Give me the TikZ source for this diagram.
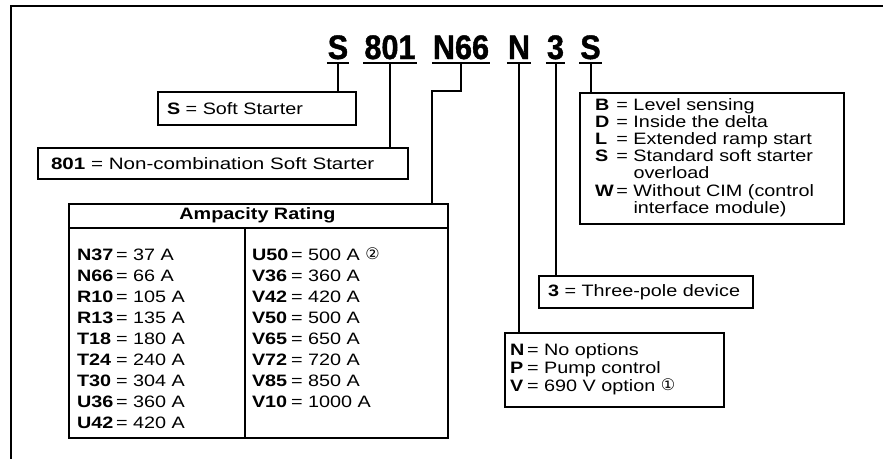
\documentclass[tikz,border=0pt]{standalone}
\usepackage{fontspec}
\usepackage{graphicx}
\setmainfont[FakeStretch=1.2]{Liberation Sans}
\newfontfamily\titlefont[FakeStretch=0.9,FakeBold=1.2]{Liberation Sans}
\newfontfamily\symfont{DejaVu Sans}
\newcommand{\circnum}[1]{{\symfont\fontsize{16}{16}\selectfont\raisebox{1pt}{#1}}}
\begin{document}
\begin{tikzpicture}[x=1pt,y=-1pt,line width=2pt,
  box/.style={draw,line width=2pt,anchor=north west,align=left,inner ysep=0pt,font=\fontsize{16.5}{17}\selectfont},
  code/.style={anchor=base,inner sep=0pt,font=\titlefont\bfseries\fontsize{34}{34}\selectfont},
  conn/.style={line width=2pt}]
\useasboundingbox (0,0) rectangle (883,459);
% frame
\draw (883,5.5) -- (11,5.5) -- (11,459);
% title codes
\node[code] (c1) at (338,59) {S};
\node[code] (c2) at (390,59) {801};
\node[code] (c3) at (461,59) {N66};
\node[code] (c4) at (519,59) {N};
\node[code] (c5) at (555.5,59) {3};
\node[code] (c6) at (590.5,59) {S};
\foreach \c in {c1,c2,c3,c4,c5,c6}{
  \draw ([yshift=-4pt]\c.base west) -- ([yshift=-4pt]\c.base east);
  \coordinate (u\c) at ([yshift=-4pt]\c.base);
}
% boxes
\node[box,text width=180pt,inner xsep=9pt,minimum height=33pt] (sbox) at (157,91) {\textbf{S} = Soft Starter};
\node[box,text width=344pt,inner xsep=13pt,minimum height=31pt] (b801) at (37,147) {\scalebox{1.04}[1]{\textbf{801} = Non-combination Soft Starter}};
\node[box,text width=196pt,inner xsep=9pt,minimum height=32pt] (tbox) at (538,275) {\textbf{3} = Three-pole device};
\node[box,text width=209pt,inner xsep=5pt,minimum height=74pt,font=\fontsize{16.5}{18}\selectfont] (nbox) at (504,332)
  {\begin{tabular}{@{}l@{\,}l@{}}
   \textbf{N}&= No options\\
   \textbf{P}&= Pump control\\
   \textbf{V}&= 690 V option \circnum{①}
  \end{tabular}};
\node[box,text width=234pt,inner xsep=15pt,minimum height=131pt] (rbox) at (579,92)
  {\begin{tabular}{@{}l@{\,}l@{}}
   \textbf{B}&= Level sensing\\
   \textbf{D}&= Inside the delta\\
   \textbf{L}&= Extended ramp start\\
   \textbf{S}&= Standard soft starter\\
   &\phantom{= }overload\\
   \textbf{W}&= Without CIM (control\\
   &\phantom{= }interface module)
  \end{tabular}};
% ampacity table
\node[draw,line width=2pt,anchor=north west,minimum width=379pt,minimum height=234pt,inner sep=0pt] (tab) at (68,203) {};
\draw (68,228) -- (447,228);
\draw (245,228) -- (245,437);
\node[font=\bfseries\fontsize{16.5}{17}\selectfont] (hdr) at (257.5,215.5) {Ampacity Rating};
\node[anchor=north west,inner sep=0pt,font=\fontsize{16.5}{21}\selectfont] (colL) at (76,245)
  {\begin{tabular}{@{}l@{\,}l@{}}
   \textbf{N37}&= 37 A\\
   \textbf{N66}&= 66 A\\
   \textbf{R10}&= 105 A\\
   \textbf{R13}&= 135 A\\
   \textbf{T18}&= 180 A\\
   \textbf{T24}&= 240 A\\
   \textbf{T30}&= 304 A\\
   \textbf{U36}&= 360 A\\
   \textbf{U42}&= 420 A
  \end{tabular}};
\node[anchor=north west,inner sep=0pt,font=\fontsize{16.5}{21}\selectfont] (colR) at (251,245)
  {\begin{tabular}{@{}l@{\,}l@{}}
   \textbf{U50}&= 500 A \circnum{②}\\
   \textbf{V36}&= 360 A\\
   \textbf{V42}&= 420 A\\
   \textbf{V50}&= 500 A\\
   \textbf{V65}&= 650 A\\
   \textbf{V72}&= 720 A\\
   \textbf{V85}&= 850 A\\
   \textbf{V10}&= 1000 A
  \end{tabular}};
% connectors
\coordinate (k3) at (432,91);
\draw[conn] (uc1) -- (uc1 |- sbox.north);
\draw[conn] (uc2) -- (uc2 |- b801.north);
\draw[conn] (uc3) |- (k3) -- (k3 |- tab.north);
\draw[conn] (uc4) -- (uc4 |- nbox.north);
\draw[conn] (uc5) -- (uc5 |- tbox.north);
\draw[conn] (uc6) -- (uc6 |- rbox.north);
\end{tikzpicture}
\end{document}
